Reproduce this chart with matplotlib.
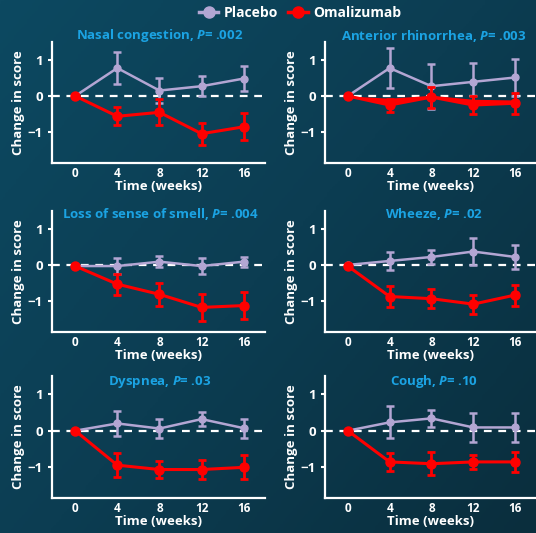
import numpy as np
import matplotlib
matplotlib.use("Agg")
import matplotlib.pyplot as plt
from matplotlib.colors import LinearSegmentedColormap
from matplotlib.lines import Line2D

plt.rcParams['font.family'] = ['Open Sans', 'DejaVu Sans']
plt.rcParams['font.weight'] = 'bold'
plt.rcParams['mathtext.fontset'] = 'custom'
plt.rcParams['mathtext.bfit'] = 'Open Sans:italic:bold'
plt.rcParams['mathtext.rm'] = 'Open Sans:bold'

weeks = [0, 4, 8, 12, 16]

titles = ["Nasal congestion", "Anterior rhinorrhea", "Loss of sense of smell",
          "Wheeze", "Dyspnea", "Cough"]
p_values = [".002", ".003", ".004", ".02", ".03", ".10"]

placebo_mean = [
    [0, 0.77, 0.15, 0.27, 0.48],
    [0, 0.77, 0.27, 0.39, 0.51],
    [-0.03, -0.03, 0.09, -0.03, 0.09],
    [0, 0.11, 0.22, 0.37, 0.22],
    [0, 0.20, 0.06, 0.32, 0.07],
    [0, 0.23, 0.34, 0.09, 0.09],
]
placebo_err = [
    [0, 0.44, 0.34, 0.28, 0.35],
    [0, 0.55, 0.62, 0.52, 0.50],
    [0, 0.22, 0.15, 0.23, 0.14],
    [0, 0.25, 0.19, 0.37, 0.33],
    [0, 0.34, 0.26, 0.20, 0.26],
    [0, 0.44, 0.23, 0.40, 0.40],
]
omal_mean = [
    [0, -0.56, -0.45, -1.04, -0.85],
    [0, -0.25, -0.03, -0.25, -0.20],
    [-0.03, -0.53, -0.81, -1.17, -1.12],
    [-0.03, -0.87, -0.93, -1.08, -0.83],
    [0, -0.95, -1.07, -1.07, -1.01],
    [0, -0.86, -0.91, -0.86, -0.86],
]
omal_err = [
    [0, 0.25, 0.36, 0.30, 0.37],
    [0, 0.18, 0.29, 0.26, 0.29],
    [0, 0.29, 0.32, 0.37, 0.38],
    [0, 0.30, 0.26, 0.26, 0.29],
    [0, 0.33, 0.23, 0.27, 0.33],
    [0, 0.24, 0.32, 0.20, 0.27],
]
# odd red wedge seen in the rhinorrhea panel
rhin_upper = [0, -0.06, 0.02, -0.09, -0.11]

title_col = '#1ba3e3'
placebo_col = '#b3a6d3'
red = '#ff0000'

W, H = 536, 533
fig = plt.figure(figsize=(W / 100, H / 100), dpi=100)

# background gradient
bg = fig.add_axes([0, 0, 1, 1], zorder=-10)
cmap = LinearSegmentedColormap.from_list('bg', ['#0d4961', '#0c3d52', '#0a2e3d'])
gx, gy = np.meshgrid(np.linspace(0, 1, 200), np.linspace(0, 1, 200))
bg.imshow(0.55 * gx + 0.45 * gy, cmap=cmap, aspect='auto', extent=[0, 1, 0, 1])
bg.axis('off')

lefts = [0.097, 0.606]
bottoms = [0.694, 0.377, 0.066]
width = [0.397, 0.394]
height = 0.228
title_x = [160, 434]
title_y = [36, 214, 382]

for i in range(6):
    r, c = divmod(i, 2)
    ax = fig.add_axes([lefts[c], bottoms[r], width[c], height])
    ax.set_facecolor('none')
    ax.axhline(0, color='white', lw=1.6, ls=(0, (3.5, 3)), zorder=1)

    ax.errorbar(weeks, placebo_mean[i], yerr=placebo_err[i], color=placebo_col,
                lw=1.8, marker='o', ms=5, capsize=3, capthick=1.8, elinewidth=1.8, zorder=2)
    if i == 1:
        ax.fill_between(weeks, rhin_upper, omal_mean[i], color=red, lw=0, zorder=3)
    ax.errorbar(weeks, omal_mean[i], yerr=omal_err[i], color=red,
                lw=2.2, marker='o', ms=6.5, capsize=3, capthick=2, elinewidth=2, zorder=3)

    ax.set_xlim(-2.2, 18)
    ax.set_ylim(-1.85, 1.5)
    ax.set_xticks(weeks)
    ax.set_xticklabels([str(w) for w in weeks], fontweight='bold')
    ax.set_yticks([-1, 0, 1])
    ax.set_yticklabels(['\u22121', '0', '1'], fontweight='bold')
    for s in ['top', 'right']:
        ax.spines[s].set_visible(False)
    for s in ['left', 'bottom']:
        ax.spines[s].set_color('white')
        ax.spines[s].set_linewidth(1.6)
    ax.tick_params(axis='x', length=0, colors='white', labelsize=8.5, pad=3)
    ax.tick_params(axis='y', length=3, width=1.5, colors='white', labelsize=9.5)
    ax.set_xlabel('Time (weeks)', color='white', fontsize=9.5, fontweight='bold', labelpad=0)
    ax.set_ylabel('Change in score', color='white', fontsize=9.5, fontweight='bold', labelpad=2)
    fig.text(title_x[c] / W, 1 - title_y[r] / H,
             titles[i] + ', $\\mathbfit{P}$= ' + p_values[i], color=title_col,
             fontsize=9.5, fontweight='bold', ha='center', va='center')

handles = [
    Line2D([], [], color=placebo_col, lw=2.5, marker='o', ms=8),
    Line2D([], [], color=red, lw=2.5, marker='o', ms=8),
]
leg = fig.legend(handles, ['Placebo', 'Omalizumab'], loc='upper center',
                 bbox_to_anchor=(0.56, 1.012), ncol=2, frameon=False,
                 handlelength=1.4, columnspacing=0.7, handletextpad=0.4,
                 prop={'size': 10, 'weight': 'bold'})
for t in leg.get_texts():
    t.set_color('white')

fig.savefig('out.png', dpi=100)
